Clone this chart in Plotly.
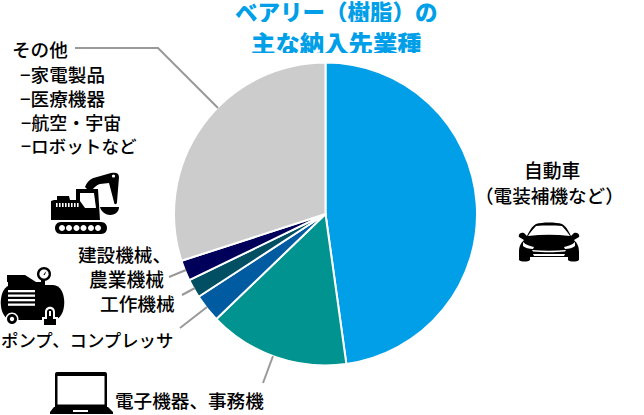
import re
import plotly.graph_objects as go

W, H = 644, 415

# Share of sales by customer sector, clockwise from twelve o'clock
categories = ["自動車", "電子機器、事務機", "ポンプ、コンプレッサ", "工作機械", "建設機械、農業機械", "その他"]
shares = [47.8, 15, 3, 2, 2.2, 30]
colors = ["#009FE8", "#00938F", "#005BA0", "#004F63", "#00005A", "#CCCCCC"]

# text, y, size
title_lines = [("ベアリー（樹脂）の", 11, 22.5), ("主な納入先業種", 42, 24.4)]
# text, x, y, anchor, size (pixel layout of the callouts)
callouts = [
    ("自動車", 551.5, 169, "center", 18.8),
    ("（電装補機など）", 549, 194, "center", 18.6),
    ("その他", 11, 49, "left", 18.6),
    ("−家電製品", 19, 73, "left", 18.6),
    ("−医療機器", 19, 97, "left", 18.6),
    ("−航空・宇宙", 20, 121, "left", 18),
    ("−ロボットなど", 20, 145, "left", 17.6),
    ("建設機械、", 172, 253, "right", 18.6),
    ("農業機械", 165, 278, "right", 18.8),
    ("工作機械", 176, 302, "right", 18.7),
    ("ポンプ、コンプレッサ", 174, 339, "right", 17.4),
    ("電子機器、事務機", 265, 399, "right", 18.6),
]

FONT = "Noto Sans CJK JP"
INK = "#000000"
LEADER = "#999999"


def to_paper(path):
    """Convert an SVG path written in pixels to paper coordinates."""
    def pair(m):
        return f"{float(m.group(1)) / W:.5f},{1 - float(m.group(2)) / H:.5f}"
    return re.sub(r"(-?[\d.]+),(-?[\d.]+)", pair, path)


def blob(path, color=INK):
    return dict(type="path", xref="paper", yref="paper", path=to_paper(path),
                fillcolor=color, line=dict(width=0), layer="above")


def circle(cx, cy, r, color=INK):
    k = 0.5523 * r
    p = (f"M{cx - r},{cy} C{cx - r},{cy - k} {cx - k},{cy - r} {cx},{cy - r} "
         f"C{cx + k},{cy - r} {cx + r},{cy - k} {cx + r},{cy} "
         f"C{cx + r},{cy + k} {cx + k},{cy + r} {cx},{cy + r} "
         f"C{cx - k},{cy + r} {cx - r},{cy + k} {cx - r},{cy} Z")
    return blob(p, color)


def rect(x0, y0, x1, y1, color=INK):
    return blob(f"M{x0},{y0} L{x1},{y0} L{x1},{y1} L{x0},{y1} Z", color)


def leader(points):
    p = "M" + " L".join(f"{x},{y}" for x, y in points)
    return dict(type="path", xref="paper", yref="paper", path=to_paper(p),
                line=dict(color=LEADER, width=2), fillcolor="rgba(0,0,0,0)", layer="above")


def excavator():
    s = []
    # crawler track and road wheels
    s.append(blob("M61,222 L101,222 C109,222 109,234 101,234 L61,234 C53,234 53,222 61,222 Z"))
    for x in (62, 69, 76.5, 83.5, 91, 98):
        s.append(circle(x, 228, 3, "#FFFFFF"))
    # hull, engine hood and cab
    s.append(blob("M51,201 L54,200 L57,200 L57,196 L69,196 L70,200 L76,200 L76,189 L98,189 L100,220 L51,220 Z"))
    s.append(blob("M80,193 L94,193 L96,208 L85,208 L80,201 Z", "#FFFFFF"))
    # louvres on the hood
    for x in range(56, 79, 3):
        s.append(rect(x, 203, x + 1.6, 207, "#FFFFFF"))
    # boom and tapering arm
    s.append(blob("M85,187 C88,180 92,178 97,177 L111,173 C116,172 119,173 119,177 "
                  "L117,202 C117,205 114,205 114,202 L109,183 L100,184 C96,185 93,189 90,192 Z"))
    s.append(circle(113.5, 176, 1.6, "#FFFFFF"))
    # bucket
    s.append(blob("M100,207 L119,207 C119,211 116,215 110,215 C105,215 101,211 100,207 Z"))
    return s


def compressor():
    s = []
    # tank
    s.append(blob("M12,285 L53,285 C68,285 68,320 53,320 L12,320 C-3,320 -3,285 12,285 Z"))
    # motor block and pipework
    s.append(blob("M7,275 L25,275 L36,282 L36,286 L8,286 L8,282 L7,282 Z"))
    s.append(rect(26, 282, 45, 286))
    s.append(rect(41, 279, 45, 286))
    # pressure gauge
    s.append(circle(44, 274, 7))
    s.append(circle(44, 274, 4.6, "#FFFFFF"))
    s.append(blob("M43.4,274.5 L46.5,271 L44.6,275.2 Z"))
    # vent slats
    for y in (290, 294.5, 299, 303.5):
        s.append(rect(8, y, 35, y + 2.3, "#FFFFFF"))
    # wheel and foot
    s.append(circle(12, 319, 6.5, "#FFFFFF"))
    s.append(circle(12, 319, 5))
    s.append(circle(12, 319, 2.2, "#FFFFFF"))
    s.append(blob("M45,312 C45,305 55,305 55,312 L55,317 L58,317 L58,327 L42,327 L42,317 L45,317 Z", "#FFFFFF"))
    s.append(blob("M47,312 C47,308 53,308 53,312 L53,319 L56,319 L56,325 L44,325 L44,319 L47,319 Z"))
    s.append(rect(49, 311, 51, 316, "#FFFFFF"))
    return s


def laptop():
    return [
        blob("M57,372 L105,372 C106,372 107,373 107,374 L107,408 L55,408 L55,374 C55,373 56,372 57,372 Z"),
        rect(57.5, 376, 104.5, 404.5, "#FFFFFF"),
        blob("M54,407 L108,407 L113,412 L113,414 L50,414 L50,412 Z"),
        rect(73, 410, 88, 412, "#FFFFFF"),
    ]


def car():
    return [
        # body with wheels and mirrors
        blob("M536,224 C542,222 556,222 562,224 C566,226 569,232 571,236 L574,233 C578,232 580,235 579,237 "
             "L574,240 C577,243 579,246 579,252 L579,260 C577,262 570,262 568,260 L568,257 L530,257 L530,260 "
             "C528,262 521,262 519,260 L519,252 C519,246 521,243 524,240 L519,237 C518,235 520,232 524,233 "
             "L527,236 C529,232 532,226 536,224 Z"),
        # windscreen
        blob("M536,226 C545,225.5 553,225.5 562,226 C565,229 568,233 570,236 C556,234.5 542,234.5 528,236 C530,233 533,229 536,226 Z",
             "#FFFFFF"),
        # headlamps
        blob("M523,242 C526,245 530,246 534,247 L533,249 C529,249 525,248 523,246 Z", "#FFFFFF"),
        blob("M575,242 C572,245 568,246 564,247 L565,249 C569,249 573,248 575,246 Z", "#FFFFFF"),
        # grille highlight and lower intake
        blob("M532,250 C543,251 555,251 566,250 L565,251.5 C555,252.5 543,252.5 533,251.5 Z", "#FFFFFF"),
        blob("M533,254 L565,254 L564,256 L534,256 Z", "#FFFFFF"),
    ]


fig = go.Figure(go.Pie(
    labels=categories,
    values=shares,
    sort=False,
    direction="clockwise",
    rotation=0,
    textinfo="none",
    marker=dict(colors=colors, line=dict(color="#FFFFFF", width=2)),
    domain=dict(x=[174 / W, 477 / W], y=[1 - 365.5 / H, 1 - 62.5 / H]),
    showlegend=False,
))

annotations = []
for line, y, size in title_lines:
    annotations.append(dict(
        text=line, x=336 / W, y=1 - y / H, xref="paper", yref="paper",
        xanchor="center", yanchor="middle", showarrow=False, borderpad=0,
        height=22, valign="middle",
        font=dict(family=FONT, size=size, color="#009FE8", weight=900),
    ))
for text, x, y, anchor, size in callouts:
    annotations.append(dict(
        text=text, x=x / W, y=1 - y / H, xref="paper", yref="paper",
        xanchor=anchor, yanchor="middle", showarrow=False, borderpad=0,
        height=23, valign="middle",
        font=dict(family=FONT, size=size, color=INK, weight=500),
    ))

leaders = [
    leader([(75, 48), (158, 48), (218, 108)]),
    leader([(169, 277), (186, 270)]),
    leader([(182, 295), (195, 288)]),
    leader([(180, 328), (207, 307)]),
    leader([(263, 383), (273, 356)]),
]

fig.update_layout(
    width=W, height=H, margin=dict(l=0, r=0, t=0, b=0),
    paper_bgcolor="#FFFFFF", plot_bgcolor="#FFFFFF",
    annotations=annotations,
    shapes=leaders + excavator() + compressor() + laptop() + car(),
)

fig.write_html("out.html", config={"displayModeBar": False})
